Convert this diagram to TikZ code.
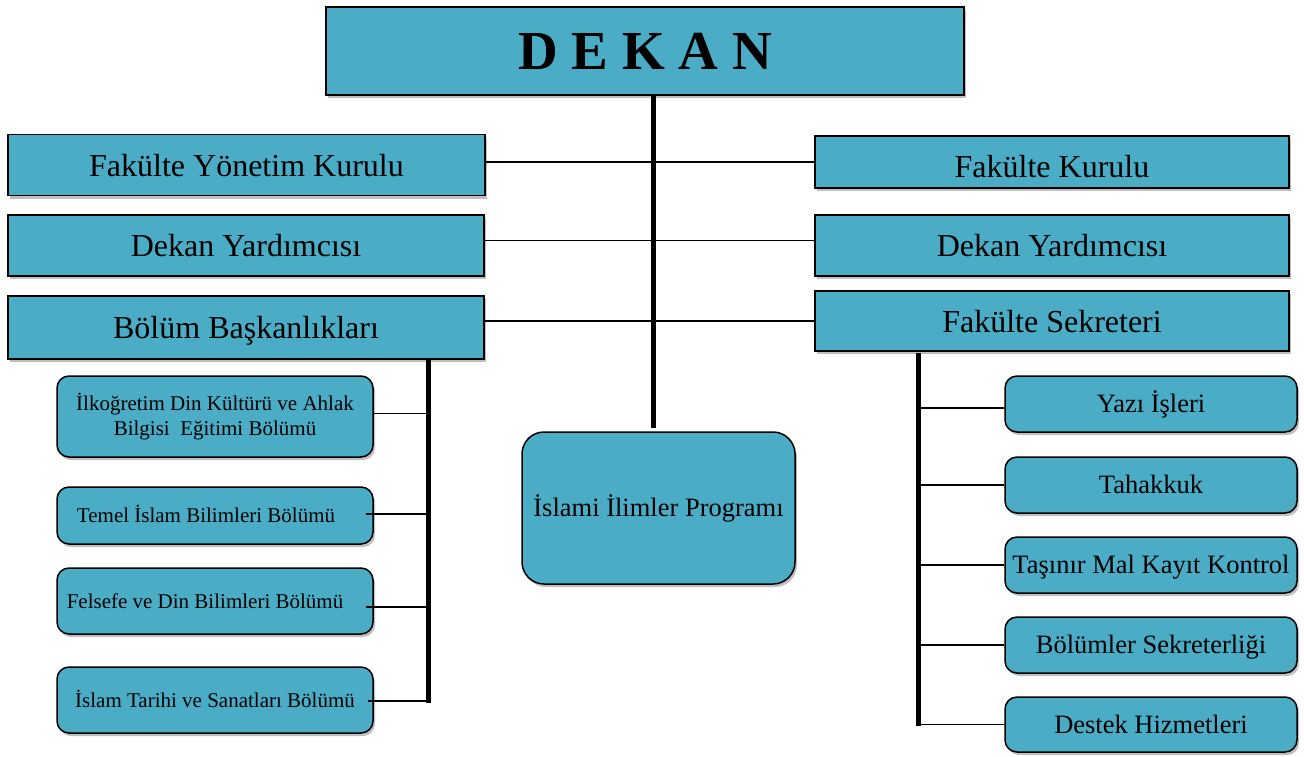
\documentclass[tikz,border=0pt]{standalone}
\usepackage{fontspec}
\setmainfont{Liberation Serif}
\usetikzlibrary{shadows}
\definecolor{boxfill}{HTML}{4BACC6}
\begin{document}
\begin{tikzpicture}[x=1pt,y=-1pt,
  sqbox/.style={draw=black, line width=1.5pt, fill=boxfill,
    drop shadow={shadow xshift=2pt, shadow yshift=-3pt, opacity=0.25, fill=black},
    inner sep=0pt, align=center},
  rbox/.style={sqbox, rounded corners=12pt},
  bigfont/.style={font=\fontsize{32}{38}\selectfont, text height=22pt, text depth=0pt},
  midfont/.style={font=\fontsize{26.5}{31}\selectfont, text height=17.5pt, text depth=0pt},
  smallfont/.style={font=\fontsize{21}{25}\selectfont},
  oneline/.style={text height=14pt, text depth=0pt},
  thinln/.style={line width=1.5pt, draw=black},
  thickln/.style={line width=5pt, draw=black}]
\useasboundingbox (0,0) rectangle (1304,756);

% top
\node[sqbox, minimum width=638pt, minimum height=88pt, text height=37pt, text depth=0pt,
  font=\fontsize{55}{60}\selectfont\bfseries] (dekan) at (645,51) {D E K A N};

% left column
\node[sqbox, bigfont, minimum width=477pt, minimum height=61pt] (fyk) at (246.5,165) {Fakülte Yönetim Kurulu};
\node[sqbox, bigfont, minimum width=476pt, minimum height=61pt] (dy1) at (246,245.5) {Dekan Yardımcısı};
\node[sqbox, bigfont, minimum width=476pt, minimum height=63pt] (bb) at (246,327.5) {Bölüm Başkanlıkları};

% right column
\node[sqbox, bigfont, text height=30pt, minimum width=474pt, minimum height=52pt] (fk) at (1052,162) {Fakülte Kurulu};
\node[sqbox, bigfont, minimum width=474pt, minimum height=61pt] (dy2) at (1052,245.5) {Dekan Yardımcısı};
\node[sqbox, bigfont, minimum width=474pt, minimum height=60pt] (fs) at (1052,321) {Fakülte Sekreteri};

% left departments
\node[rbox, smallfont, minimum width=316pt, minimum height=81pt] (l1) at (215,416.5) {İlkoğretim Din Kültürü ve Ahlak\\Bilgisi\ \ Eğitimi Bölümü};
\node[rbox, smallfont, oneline, minimum width=316pt, minimum height=57pt] (l2) at (215,515.5) {Temel İslam Bilimleri Bölümü\hspace{18pt}};
\node[rbox, smallfont, oneline, minimum width=316pt, minimum height=66pt] (l3) at (215,601) {Felsefe ve Din Bilimleri Bölümü\hspace{20pt}};
\node[rbox, smallfont, oneline, minimum width=316pt, minimum height=66pt] (l4) at (215,700) {İslam Tarihi ve Sanatları Bölümü};

% center
\node[sqbox, rounded corners=22pt, midfont, minimum width=273pt, minimum height=152pt] (prog) at (658.5,508) {İslami İlimler Programı};

% right units
\node[rbox, midfont, minimum width=292pt, minimum height=56pt] (r1) at (1151,404) {Yazı İşleri};
\node[rbox, midfont, minimum width=292pt, minimum height=56pt] (r2) at (1151,485) {Tahakkuk};
\node[rbox, midfont, minimum width=292pt, minimum height=56pt] (r3) at (1151,565) {Taşınır Mal Kayıt Kontrol};
\node[rbox, midfont, minimum width=292pt, minimum height=56pt] (r4) at (1151,645) {Bölümler Sekreterliği};
\node[rbox, midfont, minimum width=292pt, minimum height=55pt] (r5) at (1151,724.5) {Destek Hizmetleri};

% coordinates
\coordinate (cEnd) at (653,428);
\coordinate (lbTop) at (428,360);
\coordinate (lbBot) at (428,703);
\coordinate (rbTop) at (918,353);
\coordinate (rbBot) at (918,726);

% center trunk
\draw[thickln] (dekan.south -| cEnd) -- (cEnd);

% horizontal links
\draw[thinln] (fk.west) -- (fk.west -| fyk.east);
\draw[thinln] ([yshift=5pt]dy2.west) -- ([yshift=5pt]dy2.west -| dy1.east);
\draw[thinln] (fs.west) -- (fs.west -| bb.east);

% left bus
\draw[thickln] (lbTop) -- (lbBot);
\draw[thinln] ([yshift=3pt]l1.east) -- ([yshift=3pt]l1.east -| lbTop);
\draw[thinln] ([xshift=-8pt,yshift=1.5pt]l2.east) -- ([yshift=1.5pt]l2.east -| lbTop);
\draw[thinln] ([xshift=-8pt,yshift=-6pt]l3.east) -- ([yshift=-6pt]l3.east -| lbTop);
\draw[thinln] ([xshift=-6pt,yshift=-1pt]l4.east) -- ([yshift=-1pt]l4.east -| lbTop);

% right bus
\draw[thickln] (rbTop) -- (rbBot);
\draw[thinln] ([yshift=-4pt]r1.west) -- ([yshift=-4pt]r1.west -| rbTop);
\draw[thinln] (r2.west) -- (r2.west -| rbTop);
\draw[thinln] (r3.west) -- (r3.west -| rbTop);
\draw[thinln] (r4.west) -- (r4.west -| rbTop);
\draw[thinln] (r5.west) -- (r5.west -| rbTop);
\end{tikzpicture}
\end{document}
